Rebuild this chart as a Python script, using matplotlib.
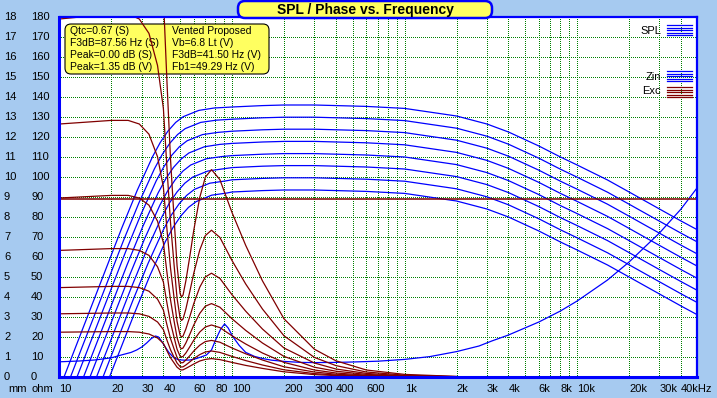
import matplotlib
matplotlib.use("Agg")
import matplotlib.pyplot as plt
import matplotlib.transforms as mtransforms
from matplotlib.patches import FancyBboxPatch
from matplotlib.lines import Line2D

plt.rcParams['font.family'] = ['Liberation Sans', 'DejaVu Sans']
plt.rcParams['lines.scale_dashes'] = False

# ---------------- data ----------------
# SPL curves (8 levels): low-frequency rising part (own frequencies per curve)
spl_low_freqs = [
    [10.62, 22.96, 28.20, 34.63, 38.38, 42.55, 47.14, 52.25, 64.17, 78.82],
    [11.58, 23.53, 28.90, 35.49, 39.33, 43.60, 48.30, 53.54, 65.76, 80.77],
    [12.63, 24.11, 29.61, 36.36, 40.30, 44.67, 49.49, 54.86, 67.37, 82.75],
    [13.78, 24.70, 30.34, 37.26, 41.29, 45.78, 50.71, 56.21, 69.03, 84.79],
    [15.02, 25.31, 31.09, 38.17, 42.31, 46.90, 51.96, 57.60, 70.73, 86.88],
    [16.39, 25.93, 31.85, 39.11, 43.35, 48.06, 53.24, 59.02, 72.48, 89.03],
    [17.87, 26.57, 32.64, 40.08, 44.42, 49.25, 54.56, 60.48, 74.27, 91.23],
    [19.49, 27.23, 33.44, 41.07, 45.51, 50.46, 55.90, 61.96, 76.10, 93.47],
]
spl_low_values = [
    [0, 74.5, 93.3, 110.2, 117.3, 123.0, 127.3, 130.2, 133.3, 134.5],
    [0, 68.4, 87.2, 104.1, 111.2, 116.9, 121.2, 124.2, 127.3, 128.4],
    [0, 62.4, 81.2, 98.1, 105.2, 110.8, 115.1, 118.1, 121.2, 122.3],
    [0, 56.3, 75.1, 92.0, 99.1, 104.8, 109.0, 112.0, 115.1, 116.3],
    [0, 50.2, 69.0, 85.9, 93.0, 98.7, 103.0, 106.0, 109.1, 110.2],
    [0, 44.2, 63.0, 79.9, 87.0, 92.6, 96.9, 99.9, 103.0, 104.1],
    [0, 38.1, 56.9, 73.8, 80.9, 86.5, 90.8, 93.8, 96.9, 98.0],
    [0, 32.0, 50.8, 67.7, 74.8, 80.5, 84.8, 87.7, 90.9, 92.0],
]
spl_high_freqs = [100, 150, 200, 300, 600, 1000, 2000, 3000, 4000, 6000,
                  8000, 10000, 15000, 20000, 30000, 40000, 50000]
spl_high_values = [
    [135.0, 135.7, 136.0, 136.0, 135.3, 134.3, 130.5, 126.5, 122.5, 115.5, 110.0, 106.0, 98.5, 92.5, 84.0, 78.0, 73.5],
    [128.9, 129.6, 129.9, 129.9, 129.2, 128.2, 124.4, 120.4, 116.4, 109.4, 103.9, 99.9, 92.4, 86.4, 77.9, 71.9, 67.4],
    [122.9, 123.6, 123.9, 123.9, 123.2, 122.2, 118.4, 114.4, 110.4, 103.4, 97.9, 93.9, 86.4, 80.4, 71.9, 65.9, 61.4],
    [116.8, 117.5, 117.8, 117.8, 117.1, 116.1, 112.3, 108.3, 104.3, 97.3, 91.8, 87.8, 80.3, 74.3, 65.8, 59.8, 55.3],
    [110.7, 111.4, 111.7, 111.7, 111.0, 110.0, 106.2, 102.2, 98.2, 91.2, 85.7, 81.7, 74.2, 68.2, 59.7, 53.7, 49.2],
    [104.7, 105.4, 105.7, 105.7, 105.0, 104.0, 100.2, 96.2, 92.2, 85.2, 79.7, 75.7, 68.2, 62.2, 53.7, 47.7, 43.2],
    [98.6, 99.3, 99.6, 99.6, 98.9, 97.9, 94.1, 90.1, 86.1, 79.1, 73.6, 69.6, 62.1, 56.1, 47.6, 41.6, 37.1],
    [92.5, 93.2, 93.5, 93.5, 92.8, 91.8, 88.0, 84.0, 80.0, 73.0, 67.5, 63.5, 56.0, 50.0, 41.5, 35.5, 31.0],
]

# Impedance (ohm)
zin_freqs = [10, 13, 16, 20, 22.8, 26, 28, 30, 32, 34, 36, 37.5, 39, 41, 43, 46, 49, 53, 57, 62,
             67, 71, 76, 81, 86, 90.5, 95, 101, 110, 120, 135, 151, 170, 200, 250, 300, 400, 500,
             700, 1000, 1400, 2000, 2700, 3200, 4000, 6000, 8000, 10000, 15000, 20000, 30000,
             40000, 50000]
zin_values = [7.6, 8.0, 8.5, 9.6, 11.0, 12.3, 13.5, 15.0, 17.0, 19.2, 20.5, 20.0, 18.0, 15.0, 12.3,
              9.6, 8.6, 8.4, 8.5, 9.2, 10.2, 11.0, 13.5, 19.3, 24.0, 26.5, 24.5, 20.2, 15.8, 12.3,
              10.3, 9.2, 8.4, 7.8, 7.3, 7.2, 7.3, 7.5, 7.9, 8.8, 10.2, 12.7, 15.5, 18.0, 21.0,
              27.5, 33.0, 38.0, 48.5, 57.5, 72.0, 84.0, 95.0]

# Cone excursion (mm x 10 on the shared scale), 8 levels
exc_freqs = [10, 20, 25, 29, 33, 37, 40, 42, 44, 46, 48, 50, 51, 52, 54, 57, 60, 65, 70, 76,
             85, 100, 120, 150, 200, 300, 400, 600, 1000, 2000]
exc_values = [
    [253.0, 256.5, 256.5, 253.0, 242.9, 220.1, 189.8, 146.7, 108.8, 81.0, 55.7, 41.7, 40.0, 41.0, 48.1, 60.7, 73.4, 89.8, 99.9, 103.7, 98.7, 82.2, 65.8, 48.1, 29.1, 13.9, 8.1, 3.5, 1.3, 0.3],
    [179.0, 181.5, 181.5, 179.0, 171.8, 155.7, 134.3, 103.8, 77.0, 57.3, 39.4, 29.5, 28.3, 29.0, 34.0, 43.0, 51.9, 63.5, 70.7, 73.4, 69.8, 58.2, 46.5, 34.0, 20.6, 9.8, 5.7, 2.5, 0.9, 0.2],
    [126.5, 128.3, 128.3, 126.5, 121.4, 110.1, 94.9, 73.4, 54.4, 40.5, 27.8, 20.9, 20.0, 20.5, 24.0, 30.4, 36.7, 44.9, 50.0, 51.9, 49.3, 41.1, 32.9, 24.0, 14.5, 7.0, 4.0, 1.8, 0.6, 0.1],
    [89.5, 90.8, 90.8, 89.5, 85.9, 77.9, 67.1, 51.9, 38.5, 28.6, 19.7, 14.8, 14.1, 14.5, 17.0, 21.5, 26.0, 31.8, 35.4, 36.7, 34.9, 29.1, 23.3, 17.0, 10.3, 4.9, 2.9, 1.3, 0.4, 0.1],
    [63.3, 64.2, 64.2, 63.3, 60.8, 55.1, 47.5, 36.7, 27.2, 20.3, 13.9, 10.4, 10.0, 10.3, 12.0, 15.2, 18.4, 22.5, 25.0, 26.0, 24.7, 20.6, 16.5, 12.0, 7.3, 3.5, 2.0, 0.9, 0.3, 0.1],
    [44.7, 45.3, 45.3, 44.7, 42.9, 38.9, 33.5, 25.9, 19.2, 14.3, 9.8, 7.4, 7.1, 7.2, 8.5, 10.7, 13.0, 15.9, 17.7, 18.3, 17.4, 14.5, 11.6, 8.5, 5.1, 2.5, 1.4, 0.6, 0.2, 0.0],
    [31.6, 32.0, 32.0, 31.6, 30.3, 27.5, 23.7, 18.3, 13.6, 10.1, 7.0, 5.2, 5.0, 5.1, 6.0, 7.6, 9.2, 11.2, 12.5, 13.0, 12.3, 10.3, 8.2, 6.0, 3.6, 1.7, 1.0, 0.4, 0.2, 0.0],
    [22.4, 22.7, 22.7, 22.4, 21.5, 19.5, 16.8, 13.0, 9.6, 7.2, 4.9, 3.7, 3.5, 3.6, 4.3, 5.4, 6.5, 8.0, 8.8, 9.2, 8.7, 7.3, 5.8, 4.3, 2.6, 1.2, 0.7, 0.3, 0.1, 0.0],
]
exc_xmax = 89

x_tick_freqs = [10, 20, 30, 40, 60, 80, 100, 200, 300, 400, 600, 1000, 2000, 3000, 4000,
                6000, 8000, 10000, 20000, 30000, 40000]
x_tick_labels = ["10", "20", "30", "40", "60", "80", "100", "200", "300", "400", "600", "1k",
                 "2k", "3k", "4k", "6k", "8k", "10k", "20k", "30k", "40kHz"]
ohm_ticks = list(range(0, 181, 10))
mm_labels = [str(v) for v in range(0, 19)]

title = "SPL / Phase vs. Frequency"
info_left = ["Qtc=0.67 (S)", "F3dB=87.56 Hz (S)", "Peak=0.00 dB (S)", "Peak=1.35 dB (V)"]
info_right = ["Vented Proposed", "Vb=6.8 Lt (V)", "F3dB=41.50 Hz (V)", "Fb1=49.29 Hz (V)"]

# ---------------- figure ----------------
W, H = 717, 398
BG = '#A6CAF0'
BLUE = '#0000FF'
RED = '#800000'
GREEN = '#008000'
YELLOW = '#FFFF60'

fig = plt.figure(figsize=(W / 100, H / 100), dpi=100)
fig.patch.set_facecolor(BG)
ax = fig.add_axes([59.5 / W, (H - 377) / H, 637.5 / W, 360 / H])
ax.set_facecolor('white')
ax.set_xscale('log')
ax.set_xlim(10, 49500)
ax.set_ylim(0, 180)
ax.set_yticks(ohm_ticks)
ax.set_axisbelow(True)
ax.tick_params(which='both', length=0, labelbottom=False, labelleft=False)
grid_kw = dict(color=GREEN, linestyle=(0, (0.72, 1.44)), linewidth=0.72, antialiased=False)
ax.grid(True, which='major', axis='y', **grid_kw)
ax.grid(True, which='both', axis='x', **grid_kw)
for name, sp in ax.spines.items():
    sp.set_color(BLUE)
    sp.set_linewidth(2.2 if name in ('left', 'bottom') else 1.6)
    sp.set_zorder(4)

# pixel transform (image coordinates, y downward)
pix = mtransforms.Affine2D().scale(1, -1).translate(0, H)

# info box (under the curves)
info = FancyBboxPatch((65, 24), 204, 50, boxstyle='round,pad=0,rounding_size=6',
                      transform=pix, facecolor=YELLOW, edgecolor='black', linewidth=0.8,
                      zorder=1.6, clip_on=False)
ax.add_patch(info)
for i, (a, b) in enumerate(zip(info_left, info_right)):
    yy = 31.5 + 12 * i
    ax.text(70, yy, a, transform=pix, ha='left', va='center', fontsize=7.5, zorder=1.7)
    ax.text(172, yy, b, transform=pix, ha='left', va='center', fontsize=7.5, zorder=1.7)

# curves
for lf, lv, hv in zip(spl_low_freqs, spl_low_values, spl_high_values):
    ax.plot(lf + spl_high_freqs, lv + hv, color=BLUE, lw=0.9, zorder=2)
ax.plot(zin_freqs, zin_values, color=BLUE, lw=0.9, zorder=2)
ax.axhline(exc_xmax, color=RED, lw=1.1, zorder=2.1)
for ev in exc_values:
    ax.plot(exc_freqs, ev, color=RED, lw=0.9, zorder=2.1)

# legend (top right)
legend_items = [("SPL", 31, [25, 27.5, 30, 32.5, 35], BLUE),
                ("Zin", 77, [71, 73.5, 76, 78.5, 81], BLUE),
                ("Exc", 91.5, [87, 89.5, 92, 94.5, 97], RED)]
for lab, ty, ys, col in legend_items:
    ax.text(661, ty, lab, transform=pix, ha='right', va='center', fontsize=8, zorder=3)
    for yy in ys:
        ax.add_line(Line2D([667, 692], [yy, yy], transform=pix, color=col, lw=0.9,
                           zorder=3, clip_on=False))

# axis labels
xlab_tr = mtransforms.blended_transform_factory(ax.transData, pix)
for f, lab in zip(x_tick_freqs, x_tick_labels):
    fig.text(f, 389, lab, transform=xlab_tr, ha='left', va='center', fontsize=8)
fig.text(8, 389, "mm", transform=pix, ha='left', va='center', fontsize=8)
fig.text(31, 389, "ohm", transform=pix, ha='left', va='center', fontsize=8)
ylab_tr = mtransforms.blended_transform_factory(pix, ax.transData)
for v, mm in zip(ohm_ticks, mm_labels):
    fig.text(4, v, mm, transform=ylab_tr, ha='left', va='center', fontsize=8)
    fig.text(31, v, str(v), transform=ylab_tr, ha='left', va='center', fontsize=8)

# title box
tbox = FancyBboxPatch((238, 1.0), 254, 17, boxstyle='round,pad=0,rounding_size=7',
                      transform=pix, facecolor=YELLOW, edgecolor=BLUE, linewidth=1.8, zorder=5)
fig.add_artist(tbox)
fig.text(365, 10, title, transform=pix, ha='center', va='center', fontsize=10,
         fontweight='bold', zorder=6)

fig.savefig('out.png', dpi=100, facecolor=BG)
